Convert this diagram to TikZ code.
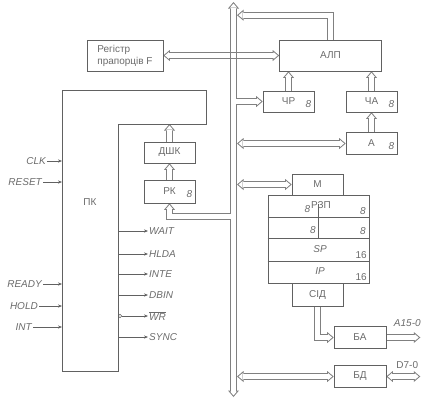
\documentclass[tikz,border=0pt]{standalone}
\usepackage{fontspec}
\setmainfont{Liberation Sans}
\usetikzlibrary{arrows.meta,calc,backgrounds,positioning}
\definecolor{lc}{gray}{0.38}
\definecolor{lk}{gray}{0.5}
\definecolor{tc}{gray}{0.42}
\newcommand\lfont{\fontsize{10}{12}\selectfont}

\tikzset{
  otip/.tip={Triangle[length=6.5pt,width=11pt,line width=0pt]},
  itip/.tip={Triangle[length=3.95pt,width=6.7pt,line width=0pt]},
  line/.style={draw=lc, line width=0.6pt},
  box/.style={line, rectangle, minimum width=51pt, minimum height=21pt, inner sep=0pt, text=tc},
  outer/.style={draw=lk, line width=7pt},
  inner/.style={draw=white, line width=5pt, shorten >=1.55pt},
  sig/.style={line, -{Stealth[length=4pt,width=3.2pt]}},
  sigtext/.style={text=tc, font=\lfont\itshape, inner sep=1pt},
  num/.style={text=tc, font=\lfont\itshape, inner sep=0pt},
}
% one-way and two-way wide links
\newcommand\dlink[1]{%
  \draw[-otip,outer] #1;
  \draw[-itip,inner] #1;}
\newcommand\dlinkb[1]{%
  \draw[otip-otip,outer] #1;
  \draw[itip-itip,inner,shorten <=1.55pt] #1;}

\begin{document}
\begin{tikzpicture}[x=1pt, y=-1pt, every node/.style={font=\lfont}]
  \useasboundingbox (0,0) rectangle (428,400);

  % bus
  \coordinate (busT) at (233.5,2);
  \coordinate (busB) at (233.5,397);
  \coordinate (busC) at (233.5,0);
  \coordinate (busR) at (237,0);
  \coordinate (busLl) at (230.5,0);
  \coordinate (busRl) at (236.5,0);

  % blocks
  \node[box, minimum width=76pt, minimum height=31pt, align=left] (F) at (125,55.5) {Регістр\\прапорців F};
  \node[box, minimum width=102pt, minimum height=31pt] (ALU) at (330.5,55.5) {АЛП};
  \node[box] (CR) at (288.5,101.5) {ЧР};
  \node[box] (CA) at (371.5,101.5) {ЧА};
  \node[box, minimum height=22pt] (A) at (371.5,143.5) {А};
  \node[box] (DSK) at (169.5,152.5) {ДШК};
  \node[box, minimum height=23pt] (RK) at (169.5,191.5) {РК};
  \node[box] (M) at (317.5,184.5) {М};
  \node[box, minimum width=101pt, minimum height=88pt] (RZP) at (318.5,239) {};
  \node[box, minimum height=23pt] (SID) at (317.5,294.5) {СІД};
  \node[box, minimum width=52pt, minimum height=22pt] (BA) at (360,337.5) {БА};
  \node[box, minimum width=52pt, minimum height=22pt] (BD) at (360,376.5) {БД};

  \foreach \b in {CR, CA, A, RK}
    \node[num, anchor=east] (\b n) at ($(\b.east)+(-3,3)$) {8};

  % register file
  \foreach \dy/\w in {23/1pt, 44/0.6pt, 67/0.6pt}
    \draw[line, line width=\w] ($(RZP.north west)+(0,\dy)$) -- ($(RZP.north east)+(0,\dy)$);
  \draw[line] ($(RZP.north)+(0,9)$) -- ($(RZP.north)+(0,44)$);
  \node[text=tc, inner sep=0pt] (RZPt) at (321,205.5) {РЗП};
  \node[num, anchor=east] (RZPa) at ($(RZPt.west)+(-0.5,4)$) {8};
  \node[num, anchor=east] (RZPb) at (366,211) {8};
  \node[num, anchor=east] (RZPc) at (316,230) {8};
  \node[num, anchor=east] (RZPd) at (366,231) {8};
  \node[num] (SP) at (320,249.5) {SP};
  \node[text=tc, inner sep=0pt, anchor=east] (SPn) at (367,255) {16};
  \node[num] (IP) at (320,271.5) {IP};
  \node[text=tc, inner sep=0pt, anchor=east] (IPn) at (367,277) {16};

  % control unit
  \coordinate (pkw) at (62,0);
  \coordinate (pke) at (118,0);
  \coordinate (pkstep) at (118,124);
  \draw[line] (62,90) -- (206,90) -- (206,124) -- (pkstep) -- (118,371) -- (62,371) -- cycle;
  \node[text=tc] (PK) at (90,202) {ПК};

  \foreach \sname/\sy/\sx in {CLK/161/47, RESET/182/43, READY/284/43, HOLD/306/39, INT/327/33}{
    \node[sigtext, anchor=east] (in\sname) at (\sx,\sy) {\sname};
    \draw[sig] (in\sname.east) -- (pkw |- in\sname.east);
  }
  \foreach \sname/\sy in {WAIT/231, HLDA/254, INTE/274, DBIN/295, SYNC/337}{
    \node[sigtext, anchor=west] (out\sname) at (148,\sy) {\sname};
    \draw[sig] (pke |- out\sname.west) -- (out\sname.west);
  }
  \node[sigtext, anchor=west] (outWR) at (148,316) {$\overline{\mbox{WR}}$};
  \node[circle, line, inner sep=0pt, minimum size=3.4pt, anchor=west] (inv) at (pke |- outWR.west) {};
  \draw[sig] (inv.east) -- (outWR.west);

  \coordinate (aout) at ($(BA.east)+(34,0)$);
  \coordinate (dout) at ($(BD.east)+(34,0)$);
  \node[sigtext] (aname) at ($(aout)+(-13,-14)$) {A15-0};
  \node[text=tc, inner sep=1pt] (dname) at ($(dout)+(-13,-11)$) {D7-0};

  \begin{scope}[on background layer]
    % bus with its branches
    \draw[otip-otip,outer] (busB) -- (busT);
    \coordinate (rkturn) at ($(RK.south)+(0,13.5)$);
    \draw[-otip,outer] (busC |- CR.west) -- (CR.west);
    \draw[-otip,outer] (busC |- rkturn) -| (RK.south);
    \draw[-itip,inner] (busC |- CR.west) -- (CR.west);
    \draw[-itip,inner] (busC |- rkturn) -| (RK.south);
    \draw[itip-itip,inner,shorten <=1.55pt] (busB) -- (busT);

    \dlinkb{(F.east) -- (ALU.west)}
    \draw[draw=lk, line width=1pt] (busLl |- F.east) ++(0,-4.5) -- ++(0,9);
    \draw[draw=lk, line width=1pt] (busRl |- F.east) ++(0,-4.5) -- ++(0,9);

    \dlink{(ALU.north) -- ++(0,-24.5) coordinate (aluup) -- (aluup -| busR)}
    \dlink{(CR.north) -- (CR.north |- ALU.south)}
    \dlink{(CA.north) -- (CA.north |- ALU.south)}
    \dlink{(A.north) -- (CA.south)}
    \dlinkb{(busR |- A.west) -- (A.west)}
    \dlink{(RK.north) -- (DSK.south)}
    \dlink{(DSK.north) -- (DSK.north |- pkstep)}
    \dlinkb{(busR |- M.west) -- (M.west)}
    \dlink{(SID.south) |- (BA.west)}
    \dlink{(BA.east) -- (aout)}
    \dlinkb{(busR |- BD.west) -- (BD.west)}
    \dlinkb{(BD.east) -- (dout)}
  \end{scope}
\end{tikzpicture}
\end{document}
